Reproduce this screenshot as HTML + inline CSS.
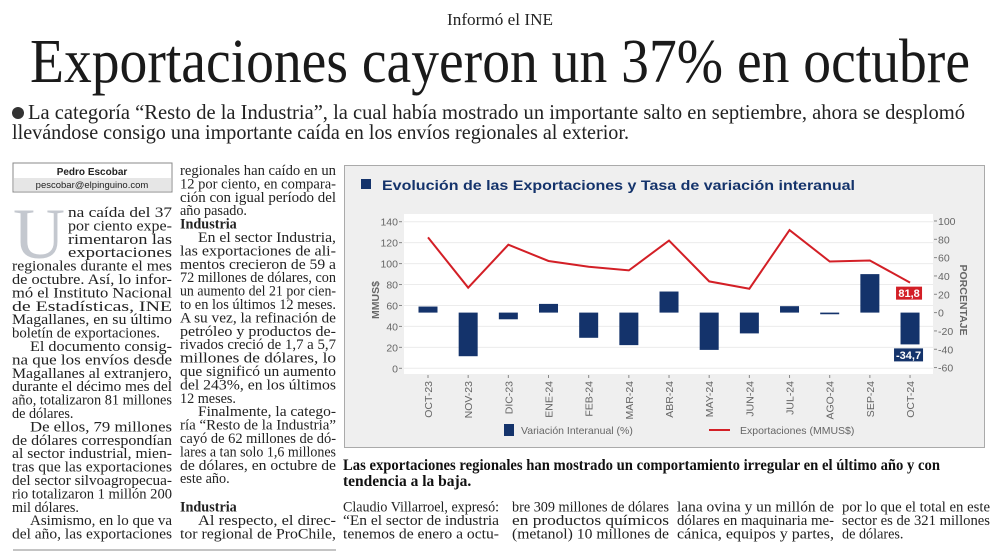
<!DOCTYPE html>
<html><head><meta charset="utf-8"><style>
html,body{margin:0;padding:0;background:#fff;}
svg{display:block;}
.b{font-family:"Liberation Serif",serif;font-size:14.2px;fill:#222;}
.bb{font-family:"Liberation Serif",serif;font-size:14.2px;font-weight:bold;fill:#222;}
.ax{font-family:"Liberation Sans",sans-serif;font-size:10.5px;fill:#666;}
</style></head><body>
<svg width="1000" height="554" viewBox="0 0 1000 554" xmlns="http://www.w3.org/2000/svg">
<rect width="1000" height="554" fill="#fff"/>
<text x="500" y="25" text-anchor="middle" font-family="Liberation Serif,serif" font-size="17" fill="#222" textLength="106" lengthAdjust="spacingAndGlyphs">Informó el INE</text>
<text x="30" y="82" font-family="Liberation Serif,serif" font-size="62" fill="#1a1a1a" textLength="940" lengthAdjust="spacingAndGlyphs">Exportaciones cayeron un 37% en octubre</text>
<circle cx="18" cy="113" r="6" fill="#333"/>
<g font-family="Liberation Serif,serif" font-size="21" fill="#222">
<text x="28" y="119" textLength="937" lengthAdjust="spacingAndGlyphs">La categoría “Resto de la Industria”, la cual había mostrado un importante salto en septiembre, ahora se desplomó</text>
<text x="12" y="139" textLength="617" lengthAdjust="spacingAndGlyphs">llevándose consigo una importante caída en los envíos regionales al exterior.</text>
</g>

<g>
<rect x="13" y="163" width="159" height="29" fill="#fff" stroke="#888"/>
<rect x="14" y="178" width="157" height="13" fill="#e6e6e6"/>
<text x="92" y="175" text-anchor="middle" font-family="Liberation Sans,sans-serif" font-weight="bold" font-size="10" fill="#222">Pedro Escobar</text>
<text x="92" y="188" text-anchor="middle" font-family="Liberation Sans,sans-serif" font-size="9.5" fill="#222">pescobar@elpinguino.com</text>
</g>
<text x="13" y="258" font-family="Liberation Serif,serif" font-size="72" fill="#c4c8cf">U</text>

<g class="b">
<text x="68" y="217" textLength="104" lengthAdjust="spacingAndGlyphs">na caída del 37</text>
<text x="68" y="230.4" textLength="104" lengthAdjust="spacingAndGlyphs">por ciento expe-</text>
<text x="68" y="243.8" textLength="104" lengthAdjust="spacingAndGlyphs">rimentaron las</text>
<text x="68" y="257.2" textLength="104" lengthAdjust="spacingAndGlyphs">exportaciones</text>
<text x="12" y="270.6" textLength="160" lengthAdjust="spacingAndGlyphs">regionales durante el mes</text>
<text x="12" y="284" textLength="160" lengthAdjust="spacingAndGlyphs">de octubre. Así, lo infor-</text>
<text x="12" y="297.4" textLength="160" lengthAdjust="spacingAndGlyphs">mó el Instituto Nacional</text>
<text x="12" y="310.8" textLength="160" lengthAdjust="spacingAndGlyphs">de Estadísticas, INE</text>
<text x="12" y="324.2" textLength="160" lengthAdjust="spacingAndGlyphs">Magallanes, en su último</text>
<text x="12" y="337.6" textLength="148" lengthAdjust="spacingAndGlyphs">boletín de exportaciones.</text>
<text x="30" y="351" textLength="142" lengthAdjust="spacingAndGlyphs">El documento consig-</text>
<text x="12" y="364.4" textLength="160" lengthAdjust="spacingAndGlyphs">na que los envíos desde</text>
<text x="12" y="377.8" textLength="160" lengthAdjust="spacingAndGlyphs">Magallanes al extranjero,</text>
<text x="12" y="391.2" textLength="160" lengthAdjust="spacingAndGlyphs">durante el décimo mes del</text>
<text x="12" y="404.6" textLength="160" lengthAdjust="spacingAndGlyphs">año, totalizaron 81 millones</text>
<text x="12" y="418">de dólares.</text>
<text x="30" y="431.4" textLength="142" lengthAdjust="spacingAndGlyphs">De ellos, 79 millones</text>
<text x="12" y="444.8" textLength="160" lengthAdjust="spacingAndGlyphs">de dólares correspondían</text>
<text x="12" y="458.2" textLength="160" lengthAdjust="spacingAndGlyphs">al sector industrial, mien-</text>
<text x="12" y="471.6" textLength="160" lengthAdjust="spacingAndGlyphs">tras que las exportaciones</text>
<text x="12" y="485" textLength="160" lengthAdjust="spacingAndGlyphs">del sector silvoagropecua-</text>
<text x="12" y="498.4" textLength="160" lengthAdjust="spacingAndGlyphs">rio totalizaron 1 millón 200</text>
<text x="12" y="511.8">mil dólares.</text>
<text x="30" y="525.2" textLength="142" lengthAdjust="spacingAndGlyphs">Asimismo, en lo que va</text>
<text x="12" y="538.6" textLength="160" lengthAdjust="spacingAndGlyphs">del año, las exportaciones</text>
</g>

<g class="b">
<text x="180" y="175" textLength="156" lengthAdjust="spacingAndGlyphs">regionales han caído en un</text>
<text x="180" y="188.4" textLength="156" lengthAdjust="spacingAndGlyphs">12 por ciento, en compara-</text>
<text x="180" y="201.8" textLength="156" lengthAdjust="spacingAndGlyphs">ción con igual período del</text>
<text x="180" y="215.2">año pasado.</text>
<text x="180" y="228.6" class="bb">Industria</text>
<text x="198" y="242" textLength="138" lengthAdjust="spacingAndGlyphs">En el sector Industria,</text>
<text x="180" y="255.4" textLength="156" lengthAdjust="spacingAndGlyphs">las exportaciones de ali-</text>
<text x="180" y="268.8" textLength="156" lengthAdjust="spacingAndGlyphs">mentos crecieron de 59 a</text>
<text x="180" y="282.2" textLength="156" lengthAdjust="spacingAndGlyphs">72 millones de dólares, con</text>
<text x="180" y="295.6" textLength="156" lengthAdjust="spacingAndGlyphs">un aumento del 21 por cien-</text>
<text x="180" y="309" textLength="156" lengthAdjust="spacingAndGlyphs">to en los últimos 12 meses.</text>
<text x="180" y="322.4" textLength="156" lengthAdjust="spacingAndGlyphs">A su vez, la refinación de</text>
<text x="180" y="335.8" textLength="156" lengthAdjust="spacingAndGlyphs">petróleo y productos de-</text>
<text x="180" y="349.2" textLength="156" lengthAdjust="spacingAndGlyphs">rivados creció de 1,7 a 5,7</text>
<text x="180" y="362.6" textLength="156" lengthAdjust="spacingAndGlyphs">millones de dólares, lo</text>
<text x="180" y="376" textLength="156" lengthAdjust="spacingAndGlyphs">que significó un aumento</text>
<text x="180" y="389.4" textLength="156" lengthAdjust="spacingAndGlyphs">del 243%, en los últimos</text>
<text x="180" y="402.8">12 meses.</text>
<text x="198" y="416.2" textLength="138" lengthAdjust="spacingAndGlyphs">Finalmente, la catego-</text>
<text x="180" y="429.6" textLength="156" lengthAdjust="spacingAndGlyphs">ría “Resto de la Industria”</text>
<text x="180" y="443" textLength="156" lengthAdjust="spacingAndGlyphs">cayó de 62 millones de dó-</text>
<text x="180" y="456.4" textLength="156" lengthAdjust="spacingAndGlyphs">lares a tan solo 1,6 millones</text>
<text x="180" y="469.8" textLength="156" lengthAdjust="spacingAndGlyphs">de dólares, en octubre de</text>
<text x="180" y="483.2">este año.</text>
<text x="180" y="511.5" class="bb">Industria</text>
<text x="198" y="525.2" textLength="138" lengthAdjust="spacingAndGlyphs">Al respecto, el direc-</text>
<text x="180" y="538.6" textLength="156" lengthAdjust="spacingAndGlyphs">tor regional de ProChile,</text>
</g>
<line x1="13" y1="550" x2="336" y2="550" stroke="#888" stroke-width="1"/>

<g>
<rect x="344.5" y="165.5" width="640" height="282" fill="#efefef" stroke="#aaa"/>
<rect x="361" y="179" width="10" height="10" fill="#14336b"/>
<text x="382" y="190" font-family="Liberation Sans,sans-serif" font-weight="bold" font-size="14" fill="#14336b" textLength="473" lengthAdjust="spacingAndGlyphs">Evolución de las Exportaciones y Tasa de variación interanual</text>
<rect x="404" y="214" width="529" height="160" fill="#fff"/>
<g id="grid"></g>
<g id="bars"></g>
<g id="line"></g>
<g id="axes"></g>
<text class="ax" x="0" y="0" font-weight="bold" transform="translate(379,300) rotate(-90)" text-anchor="middle">MMUS$</text>
<text class="ax" x="0" y="0" font-weight="bold" transform="translate(960,300) rotate(90)" text-anchor="middle">PORCENTAJE</text>
<rect x="504" y="424" width="10" height="12" fill="#14336b"/>
<text class="ax" x="521" y="434">Variación Interanual (%)</text>
<line x1="709" y1="430" x2="730" y2="430" stroke="#d31f26" stroke-width="2"/>
<text class="ax" x="740" y="434">Exportaciones (MMUS$)</text>
</g>

<g font-family="Liberation Serif,serif" font-weight="bold" font-size="15.5" fill="#111">
<text x="343" y="470" textLength="597" lengthAdjust="spacingAndGlyphs">Las exportaciones regionales han mostrado un comportamiento irregular en el último año y con</text>
<text x="343" y="486">tendencia a la baja.</text>
</g>
<g class="b">
<text x="343" y="511.5" textLength="156" lengthAdjust="spacingAndGlyphs">Claudio Villarroel, expresó:</text>
<text x="343" y="525.2" textLength="156" lengthAdjust="spacingAndGlyphs">“En el sector de industria</text>
<text x="343" y="538.6" textLength="156" lengthAdjust="spacingAndGlyphs">tenemos de enero a octu-</text>
<text x="512" y="511.5" textLength="157" lengthAdjust="spacingAndGlyphs">bre 309 millones de dólares</text>
<text x="512" y="525.2" textLength="157" lengthAdjust="spacingAndGlyphs">en productos químicos</text>
<text x="512" y="538.6" textLength="157" lengthAdjust="spacingAndGlyphs">(metanol) 10 millones de</text>
<text x="677" y="511.5" textLength="157" lengthAdjust="spacingAndGlyphs">lana ovina y un millón de</text>
<text x="677" y="525.2" textLength="157" lengthAdjust="spacingAndGlyphs">dólares en maquinaria me-</text>
<text x="677" y="538.6" textLength="157" lengthAdjust="spacingAndGlyphs">cánica, equipos y partes,</text>
<text x="842" y="511.5" textLength="148" lengthAdjust="spacingAndGlyphs">por lo que el total en este</text>
<text x="842" y="525.2" textLength="148" lengthAdjust="spacingAndGlyphs">sector es de 321 millones</text>
<text x="842" y="538.6">de dólares.</text>
</g>
</svg>
<script>
const categories = ["OCT-23","NOV-23","DIC-23","ENE-24","FEB-24","MAR-24","ABR-24","MAY-24","JUN-24","JUL-24","AGO-24","SEP-24","OCT-24"];
const exportaciones = [125, 77, 118, 102.5, 97, 93.5, 122, 83, 76, 132, 102, 103, 81.8];
const variacion = [6.6, -47.6, -7.3, 9.5, -27.5, -35.5, 23, -40.7, -22.7, 7, -1.8, 42, -34.7];
const leftTicks = [0, 20, 40, 60, 80, 100, 120, 140];
const rightTicks = [-60, -40, -20, 0, 20, 40, 60, 80, 100];

const NS = "http://www.w3.org/2000/svg";
const xPos = i => 428 + i * 40.17;
const yL = v => 368.3 - v / 140 * 146.6;
const yR = p => 312.6 - p * 146.6 / 160;
function mk(tag, attrs, parent) {
  const e = document.createElementNS(NS, tag);
  for (const k in attrs) e.setAttribute(k, attrs[k]);
  parent.appendChild(e);
  return e;
}
const grid = document.getElementById('grid');
const axes = document.getElementById('axes');
const bars = document.getElementById('bars');
const lineG = document.getElementById('line');

leftTicks.forEach(v => {
  const g = mk('line', {x1: 404, x2: 933, y1: yL(v), y2: yL(v), stroke: '#ececec', 'stroke-width': 1}, grid);
  
  
  const tk = mk('line', {x1: 399, x2: 402, y1: yL(v), y2: yL(v), stroke: '#888', 'stroke-width': 1}, axes);
  
  
  const t = mk('text', {x: 398, y: yL(v) + 4, 'text-anchor': 'end', class: 'ax'}, axes);
  t.textContent = v;
  
  
});
rightTicks.forEach(p => {
  const tk = mk('line', {x1: 934, x2: 937, y1: yR(p), y2: yR(p), stroke: '#888', 'stroke-width': 1}, axes);
  
  
  const t = mk('text', {x: 938, y: yR(p) + 4, class: 'ax'}, axes);
  t.textContent = p;
  
  
});
categories.forEach((c, i) => {
  const tk = mk('line', {x1: xPos(i), x2: xPos(i), y1: 375, y2: 378, stroke: '#888', 'stroke-width': 1}, axes);
  
  
  const t = mk('text', {x: 0, y: 0, 'text-anchor': 'end', class: 'ax', 'font-size': '11.5', transform: 'translate(' + (xPos(i) + 4) + ',381) rotate(-90)'}, axes);
  t.textContent = c;
  
  
});
variacion.forEach((p, i) => {
  const y0 = yR(0), y1 = yR(p);
  const r = mk('rect', {x: xPos(i) - 9.5, y: Math.min(y0, y1), width: 19, height: Math.max(1.5, Math.abs(y1 - y0)), fill: '#14336b'}, bars);
  
  
});
const pts = exportaciones.map((v, i) => xPos(i) + ',' + yL(v)).join(' ');
const pl = mk('polyline', {points: pts, fill: 'none', stroke: '#d31f26', 'stroke-width': 2}, lineG);



const n = categories.length - 1;
const lastE = exportaciones[n], lastV = variacion[n];
const rb = mk('rect', {x: xPos(n) - 14, y: yL(lastE) + 4, width: 26, height: 13, fill: '#d31f26'}, lineG);


const rt = mk('text', {x: xPos(n) - 1, y: yL(lastE) + 14.5, 'text-anchor': 'middle', fill: '#fff', 'font-family': 'Liberation Sans,sans-serif', 'font-weight': 'bold', 'font-size': '11'}, lineG);
rt.textContent = String(lastE).replace('.', ',');


const bb = mk('rect', {x: xPos(n) - 16, y: yR(lastV) + 4, width: 29, height: 13, fill: '#14336b'}, lineG);


const bt = mk('text', {x: xPos(n) - 1.5, y: yR(lastV) + 14.5, 'text-anchor': 'middle', fill: '#fff', 'font-family': 'Liberation Sans,sans-serif', 'font-weight': 'bold', 'font-size': '11'}, lineG);
bt.textContent = String(lastV).replace('.', ',');


</script>
</body></html>
